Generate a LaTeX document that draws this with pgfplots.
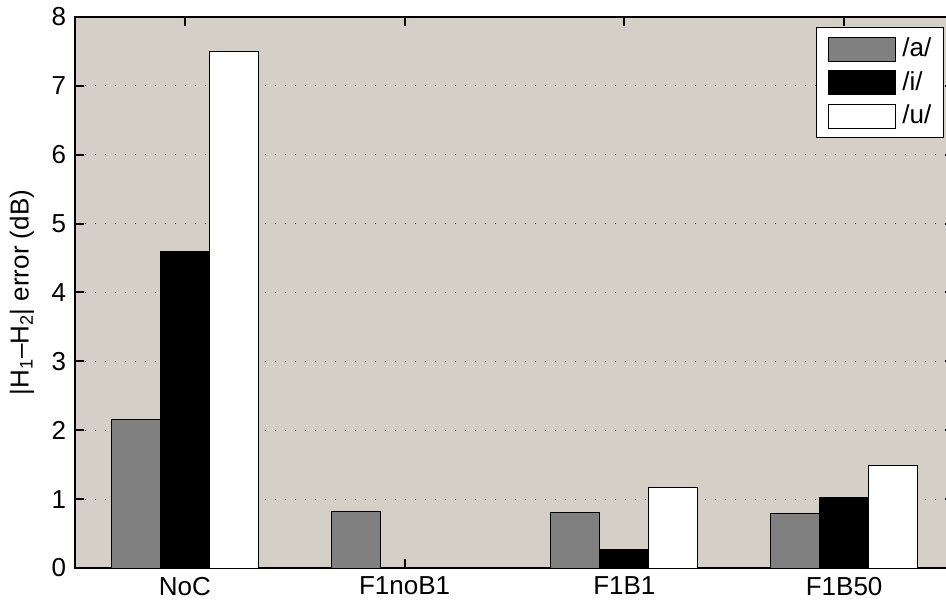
\documentclass[border=0pt]{standalone}
\usepackage{fontspec}
\setmainfont{Liberation Sans}
\usepackage{pgfplots}
\pgfplotsset{compat=1.18}
\definecolor{bgc}{RGB}{212,208,200}
\definecolor{barA}{RGB}{128,128,128}
\newcommand{\bigfont}{\fontsize{26bp}{31bp}\selectfont}
\begin{document}
\bigfont
\begin{tikzpicture}
\begin{axis}[
  scale only axis, width=879bp, height=551bp,
  xmin=-0.5, xmax=3.5, ymin=0, ymax=8,
  axis background/.style={fill=bgc},
  xtick={0,1,2,3}, xticklabels={NoC,F1noB1,F1B1,F1B50},
  ytick={0,1,...,8},
  ymajorgrids,
  grid style={black, line width=1bp, dash pattern=on 1bp off 9bp},
  tick align=inside, major tick length=9bp,
  every tick/.style={black, line width=2bp},
  axis line style={line width=2bp},
  /pgf/number format/assume math mode=true,
  tick label style={font=\bigfont},
  label style={font=\bigfont},
  ylabel={|H\textsubscript{1}–H\textsubscript{2}| error (dB)},
  legend style={at={(rel axis cs:1,1)}, anchor=north east, xshift=-10bp, yshift=-10bp,
    draw=black, line width=1.5bp, fill=white, font=\bigfont,
    nodes={inner sep=0pt}, inner xsep=12bp, inner ysep=9bp, row sep=8.5bp},
  legend cell align=left,
  mybar/.style={ybar, bar width=0.223, draw=black, line width=1bp,
    legend image code/.code={\draw[##1, line width=1bp] (0bp,-12bp) rectangle (67bp,12bp); \path (73bp,0bp);}},
]
\addplot[mybar, bar shift=-0.223, fill=barA] coordinates {(0,2.16) (1,0.82) (2,0.80) (3,0.79)};
\addlegendentry{/a/}
\addplot[mybar, bar shift=0, fill=black] coordinates {(0,4.60) (1,0) (2,0.27) (3,1.03)};
\addlegendentry{/i/}
\addplot[mybar, bar shift=0.223, fill=white] coordinates {(0,7.50) (1,0) (2,1.17) (3,1.49)};
\addlegendentry{/u/}
\end{axis}
\pgfresetboundingbox
\path[use as bounding box] ([shift={(-75bp,-35bp)}]current axis.south west) rectangle ([shift={(-8bp,17bp)}]current axis.north east);
\end{tikzpicture}
\end{document}
